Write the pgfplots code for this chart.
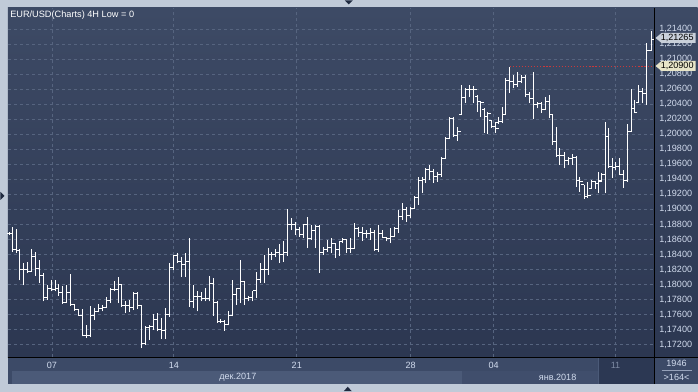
\documentclass[border=0pt]{standalone}
\usepackage{pgfplots}
\pgfplotsset{compat=1.18}
\usepackage{pgfplotstable}
\usepackage{fontspec}
\setmainfont{Liberation Sans}
\definecolor{outer}{HTML}{C0CAD8}
\definecolor{paneltop}{HTML}{3D4A65}
\definecolor{panelbot}{HTML}{2C3751}
\definecolor{gridc}{HTML}{56647F}
\definecolor{labc}{HTML}{D2DCEE}
\definecolor{dateband}{HTML}{3C4A67}
\definecolor{monthA}{HTML}{4B5A78}
\definecolor{monthB}{HTML}{404E6C}
\definecolor{curwk}{HTML}{2C3853}
\definecolor{redl}{HTML}{C8393B}
\definecolor{tri}{HTML}{1F2A40}
\definecolor{boxA}{HTML}{C9D0DA}
\definecolor{boxB}{HTML}{E8E5C8}
\definecolor{sepl}{HTML}{96A2BA}
\definecolor{dimlab}{HTML}{7E8BA4}

\pgfplotstableread{
x lo hi o c
10 1.18662 1.18705 1.18684 1.18684
13 1.18439 1.18772 1.18684 1.18462
17 1.18418 1.18741 1.18462 1.18450
20 1.18055 1.18471 1.18450 1.18196
24 1.17988 1.18285 1.18196 1.18196
28 1.18152 1.18306 1.18196 1.18173
32 1.18173 1.18471 1.18173 1.18373
36 1.18120 1.18431 1.18373 1.18219
40 1.18020 1.18329 1.18219 1.18120
44 1.17775 1.18152 1.18120 1.17834
48 1.17798 1.17997 1.17834 1.17954
52 1.17908 1.18064 1.17954 1.17931
56 1.17908 1.18055 1.17931 1.17954
59 1.17851 1.18011 1.17954 1.17895
63 1.17745 1.17975 1.17895 1.17762
67 1.17754 1.17997 1.17762 1.17895
71 1.17718 1.18139 1.17895 1.17731
75 1.17652 1.17731 1.17731 1.17665
79 1.17585 1.17674 1.17665 1.17589
83 1.17310 1.17674 1.17589 1.17329
87 1.17289 1.17466 1.17329 1.17329
91 1.17302 1.17709 1.17329 1.17585
95 1.17532 1.17687 1.17585 1.17642
99 1.17629 1.17745 1.17642 1.17687
103 1.17642 1.17731 1.17687 1.17701
107 1.17687 1.17834 1.17701 1.17785
111 1.17754 1.17954 1.17785 1.17931
115 1.17908 1.18041 1.17931 1.17931
119 1.17754 1.18099 1.17931 1.17997
122 1.17701 1.17997 1.17997 1.17718
126 1.17621 1.17775 1.17718 1.17718
130 1.17629 1.17789 1.17718 1.17701
134 1.17665 1.17895 1.17701 1.17887
138 1.17674 1.17895 1.17887 1.17718
142 1.17156 1.17731 1.17718 1.17213
146 1.17199 1.17443 1.17213 1.17430
150 1.17266 1.17466 1.17430 1.17443
154 1.17399 1.17608 1.17443 1.17532
158 1.17376 1.17621 1.17532 1.17399
162 1.17275 1.17555 1.17399 1.17390
166 1.17275 1.17687 1.17390 1.17598
170 1.17568 1.18285 1.17598 1.18227
174 1.18196 1.18396 1.18227 1.18382
178 1.18285 1.18426 1.18382 1.18306
182 1.18107 1.18373 1.18306 1.18262
186 1.18107 1.18426 1.18262 1.18306
190 1.17701 1.18618 1.18306 1.17775
194 1.17687 1.17997 1.17775 1.17842
198 1.17642 1.17908 1.17842 1.17842
202 1.17775 1.17895 1.17842 1.17820
206 1.17775 1.17954 1.17820 1.17820
210 1.17775 1.18116 1.17820 1.18011
214 1.17585 1.18085 1.18011 1.17762
217.5 1.17488 1.17785 1.17762 1.17509
221 1.17488 1.17541 1.17509 1.17505
225 1.17386 1.17532 1.17505 1.17466
229 1.17457 1.17642 1.17466 1.17585
233 1.17576 1.18064 1.17585 1.17874
237 1.17731 1.17954 1.17874 1.17954
241 1.17754 1.18329 1.17954 1.18041
245 1.17731 1.18041 1.18041 1.17820
249 1.17775 1.17842 1.17820 1.17825
253 1.17775 1.17918 1.17825 1.17918
257 1.17820 1.18173 1.17918 1.18064
261 1.18020 1.18289 1.18064 1.18196
265 1.18020 1.18396 1.18196 1.18196
268.5 1.18130 1.18489 1.18196 1.18396
272 1.18329 1.18439 1.18396 1.18396
276 1.18373 1.18471 1.18396 1.18426
280 1.18285 1.18542 1.18426 1.18396
284 1.18306 1.18586 1.18396 1.18426
288 1.18382 1.19003 1.18426 1.18804
292 1.18728 1.18884 1.18804 1.18804
296 1.18662 1.18830 1.18804 1.18737
300 1.18639 1.18772 1.18737 1.18671
304 1.18618 1.18808 1.18671 1.18795
308 1.18485 1.18905 1.18795 1.18618
312 1.18595 1.18795 1.18618 1.18715
316 1.18485 1.18795 1.18715 1.18772
320 1.18152 1.18795 1.18772 1.18431
324 1.18396 1.18506 1.18431 1.18462
328 1.18439 1.18595 1.18462 1.18489
332 1.18418 1.18618 1.18489 1.18551
336 1.18352 1.18559 1.18551 1.18471
339.5 1.18382 1.18586 1.18471 1.18573
343 1.18551 1.18626 1.18573 1.18604
347 1.18426 1.18610 1.18604 1.18485
351 1.18418 1.18626 1.18485 1.18485
355 1.18480 1.18817 1.18485 1.18741
359 1.18639 1.18772 1.18741 1.18692
363 1.18586 1.18764 1.18692 1.18684
367 1.18618 1.18728 1.18684 1.18684
371 1.18595 1.18750 1.18684 1.18692
375 1.18453 1.18728 1.18692 1.18462
379 1.18439 1.18795 1.18462 1.18684
383 1.18618 1.18728 1.18684 1.18631
387 1.18573 1.18639 1.18631 1.18618
391 1.18551 1.18750 1.18618 1.18639
395 1.18639 1.18772 1.18639 1.18750
399 1.18684 1.18994 1.18750 1.18905
403 1.18861 1.19091 1.18905 1.18994
407 1.18838 1.19030 1.18994 1.18914
411 1.18884 1.19030 1.18914 1.19017
415 1.19017 1.19180 1.19017 1.19163
419 1.19060 1.19437 1.19163 1.19384
422.5 1.19224 1.19437 1.19384 1.19393
426 1.19357 1.19548 1.19393 1.19526
430 1.19393 1.19591 1.19526 1.19503
434 1.19357 1.19535 1.19503 1.19437
438 1.19370 1.19503 1.19437 1.19459
442 1.19437 1.19694 1.19459 1.19681
446 1.19681 1.19960 1.19681 1.19947
450 1.19947 1.20234 1.19947 1.20213
454 1.19968 1.20226 1.20213 1.19977
458 1.19915 1.20101 1.19977 1.20034
462 1.20256 1.20656 1.20256 1.20492
466 1.20420 1.20612 1.20492 1.20598
470 1.20492 1.20656 1.20598 1.20598
474 1.20412 1.20642 1.20598 1.20589
478 1.20300 1.20522 1.20500 1.20433
481 1.20226 1.20433 1.20433 1.20420
485 1.20013 1.20345 1.20330 1.20234
488 1.20004 1.20300 1.20234 1.20279
492 1.20080 1.20190 1.20180 1.20101
496 1.20021 1.20167 1.20101 1.20080
499 1.20137 1.20234 1.20150 1.20167
502.5 1.20146 1.20367 1.20167 1.20256
506 1.20256 1.20745 1.20256 1.20713
510 1.20545 1.20900 1.20713 1.20700
514 1.20611 1.20789 1.20700 1.20656
518 1.20633 1.20832 1.20656 1.20700
522 1.20678 1.20789 1.20700 1.20749
526 1.20500 1.20789 1.20749 1.20522
530 1.20412 1.20567 1.20522 1.20478
534 1.20199 1.20832 1.20478 1.20389
538 1.20345 1.20433 1.20389 1.20412
542 1.20279 1.20433 1.20412 1.20323
546 1.20323 1.20492 1.20323 1.20433
549.5 1.20212 1.20522 1.20433 1.20256
552.5 1.19858 1.20266 1.20256 1.19902
556.5 1.19702 1.20101 1.19902 1.19711
560 1.19591 1.19814 1.19711 1.19715
564.5 1.19548 1.19768 1.19715 1.19645
568.5 1.19591 1.19702 1.19645 1.19671
572.5 1.19591 1.19734 1.19671 1.19688
576.5 1.19304 1.19715 1.19688 1.19380
580 1.19237 1.19437 1.19380 1.19370
584.5 1.19140 1.19326 1.19326 1.19171
588 1.19149 1.19370 1.19171 1.19184
592 1.19273 1.19393 1.19273 1.19370
595.5 1.19273 1.19380 1.19370 1.19348
599 1.19216 1.19503 1.19348 1.19370
602 1.19380 1.19482 1.19380 1.19459
605.5 1.19216 1.20167 1.19459 1.19968
609 1.19548 1.20080 1.19968 1.19570
612.5 1.19415 1.19681 1.19570 1.19556
616 1.19526 1.19636 1.19556 1.19570
620 1.19459 1.19689 1.19570 1.19468
623.5 1.19287 1.19526 1.19468 1.19380
627.5 1.19370 1.20133 1.19380 1.20034
631.5 1.20034 1.20602 1.20034 1.20345
635 1.20279 1.20456 1.20345 1.20292
639 1.20425 1.20656 1.20425 1.20567
643 1.20412 1.20611 1.20567 1.20545
647 1.20389 1.21209 1.20545 1.21107
651.5 1.21107 1.21373 1.21107 1.21265
}\bars

\newcommand{\lbl}{\fontsize{6.8}{8}\selectfont}

\begin{document}
\begin{tikzpicture}
\begin{scope}[x=0.75pt,y=-0.75pt]
\useasboundingbox (0,0) rectangle (698,392);
\fill[outer] (0,0) rectangle (698,392);
\shade[top color=paneltop, bottom color=panelbot] (8,8) rectangle (698,357.5);
% bottom bands
\fill[dateband] (8,357.5) rectangle (655,384);
\fill[monthA] (12,371) rectangle (462,384);
\fill[monthB] (462,371) rectangle (598,384);
\fill[curwk] (599,358) rectangle (655,384);
\draw[color=monthA, line width=0.5pt] (599,358) -- (599,384);
\fill[dateband] (655,357.5) rectangle (698,384);
% triangles
\fill[tri] (345,0.5) -- (353,0.5) -- (349,4.5) -- cycle;
\fill[tri] (0.5,192) -- (0.5,200) -- (4.5,196) -- cycle;
\fill[tri] (348,387) -- (344,391.5) -- (352,391.5) -- cycle;
\end{scope}

\begin{axis}[
  at={(6pt,-268.125pt)}, anchor=south west,
  scale only axis, width=485.25pt, height=262.125pt,
  xmin=8, xmax=655, ymin=1.170335, ymax=1.216787,
  axis x line*=bottom, axis y line*=right,
  axis line style={black, line width=0.75pt, -},
  major tick length=0pt,
  xtick={52,174,297,411,494,616},
  xticklabels={07,14,21,28,04,{\textcolor{dimlab}{11}}},
  ytick={1.172,1.174,1.176,1.178,1.180,1.182,1.184,1.186,1.188,1.190,1.192,1.194,1.196,1.198,1.200,1.202,1.204,1.206,1.208,1.210,1.212,1.214},
  grid=major,
  major grid style={gridc, line width=0.6pt, dash pattern=on 2.25pt off 2.25pt},
  ticklabel style={font=\lbl, text=labc},
  xticklabel style={anchor=north, inner sep=0pt, yshift=-3.2pt},
  yticklabel style={anchor=west, inner sep=0pt, xshift=3.4pt,
    /pgf/number format/.cd, fixed, fixed zerofill, precision=5, use comma, 1000 sep={}},
  /pgf/number format/assume math mode=true,
  clip=true,
]
\addplot[draw=none, mark=none, forget plot,
  error bars/.cd, y dir=plus, y explicit, error mark=none,
  error bar style={draw=white, line width=0.75pt, solid}]
  table[x=x, y=lo, y error expr=\thisrow{hi}-\thisrow{lo}] {\bars};
\addplot[draw=white, line width=0.75pt, only marks, mark=-, mark size=1.1pt,
  mark options={xshift=-1.1pt, draw=white}] table[x=x, y=o] {\bars};
\addplot[draw=white, line width=0.75pt, only marks, mark=-, mark size=1.1pt,
  mark options={xshift=1.1pt, draw=white}] table[x=x, y=c] {\bars};
\addplot[redl, line width=0.9pt, dash pattern=on 0.9pt off 1.4pt] coordinates {(510,1.209) (655,1.209)};
\end{axis}

\begin{scope}[x=0.75pt,y=-0.75pt]
% frame lines
\draw[black, line width=0.75pt] (8,357.5) -- (698,357.5);
\draw[black, line width=0.75pt] (655,8) -- (655,384);

% title
\node[anchor=west, inner sep=0pt, text=white, font=\fontsize{6.9}{8}\selectfont] at (10,15) {EUR/USD(Charts) 4H Low = 0};

% value boxes
\fill[boxA] (656,38) -- (662,33) -- (696,33) -- (696,43) -- (662,43) -- cycle;
\node[anchor=west, inner sep=0pt, text=black, font=\lbl] at (661,38) {1,21265};
\fill[boxB] (656,66) -- (662,61) -- (696,61) -- (696,71) -- (662,71) -- cycle;
\node[anchor=west, inner sep=0pt, text=black, font=\lbl] at (661,66) {1,20900};

% month labels
\node[text=labc, font=\lbl, inner sep=0pt] at (238,377.5) {дек.2017};
\node[text=labc, font=\lbl, inner sep=0pt] at (558,377.5) {янв.2018};

% right bottom box
\node[text=labc, font=\lbl, inner sep=0pt] at (677,364) {1946};
\draw[sepl, line width=0.5pt] (662,370.5) -- (692,370.5);
\node[text=labc, font=\lbl, inner sep=0pt] at (677,377.5) {>164<};
\end{scope}
\end{tikzpicture}
\end{document}
